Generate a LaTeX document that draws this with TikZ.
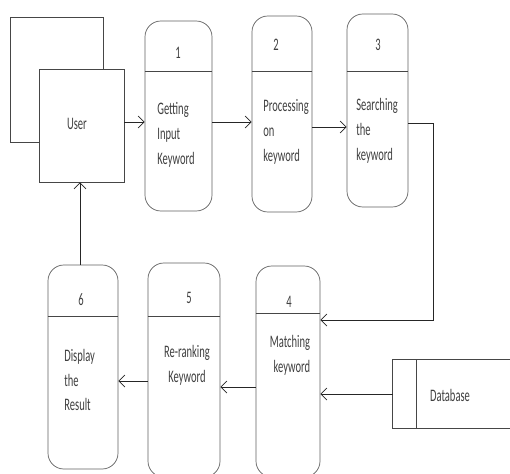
\documentclass[tikz,border=0pt]{standalone}
\usepackage{fontspec}
\setmainfont{Carlito}[FakeStretch=0.6]
\usetikzlibrary{arrows.meta, positioning, calc}
\definecolor{edge}{RGB}{70,70,70}

\begin{document}
\begin{tikzpicture}[x=0.02cm, y=-0.02cm,
  proc/.style={draw=edge!85, rounded corners=9pt, inner sep=0pt},
  ent/.style={draw=edge, inner sep=0pt},
  txt/.style={font=\fontsize{10}{11.2}\selectfont, text=black!75, align=left, inner sep=0pt},
  flow/.style={draw=black!85, -{Straight Barb[length=1.2mm, width=2.4mm]}}]
  \clip (0,0) rectangle (510,473);
  \fill[white] (0,0) rectangle (510,473);
  % user (external entity)
  \node[ent, minimum width=1.86cm, minimum height=2.5cm] (uback) at (56.5,79.5) {};
  \node[ent, fill=white, minimum width=1.7cm, minimum height=2.26cm] (u) at (81.5,125.5) {};
  \node[txt] (ulab) at (77,124) {User};
  % processes
  \foreach \n/\x/\y/\w/\h/\d in {p1/178.5/116/67/190/71, p2/282/114/60/196/71,
      p3/377.5/110.5/61/193/71, p4/288/371.5/64/211/313, p5/184/370/72/214/316,
      p6/83/367/70/204/316} {
    \node[proc, minimum width=\w*0.02cm, minimum height=\h*0.02cm] (\n) at (\x,\y) {};
    \draw[edge] (\n.west |- 0,\d) -- (\n.east |- 0,\d);
  }
  \node[txt] (n1) at (178,53) {1};
  \node[txt] (n2) at (276,45) {2};
  \node[txt] (n3) at (378,45) {3};
  \node[txt] (n4) at (289,302) {4};
  \node[txt] (n5) at (189,298) {5};
  \node[txt] (n6) at (81,300) {6};
  \node[txt, anchor=west] (t1) at (157,135) {Getting\\[3pt]Input\\[3pt]Keyword};
  \node[txt, anchor=west] (t2) at (263,132) {Processing\\[3pt]on\\[3pt]keyword};
  \node[txt, anchor=west] (t3) at (356,131) {Searching\\[3pt]the\\[3pt]keyword};
  \node[txt, align=right] (t4) at (290,355) {Matching\\[3pt]keyword};
  \node[txt, align=center] (t5) at (187,365) {Re-ranking\\[3pt]Keyword};
  \node[txt, anchor=west] (t6) at (64,380) {Display\\[3pt]the\\[3pt]Result};
  % data store
  \node[minimum width=2.54cm, minimum height=1.36cm, inner sep=0pt] (db) at (456.5,394) {};
  \draw[edge] (db.north east) -- (db.north west) -- (db.south west) -- (db.south east);
  \draw[edge] (db.north west) ++(24,0) -- ++(0,68);
  \node[txt] (dblab) at (450,395) {Database};
  % flows
  \coordinate (bend) at (433,320);
  \draw[flow] (u.east |- 0,122) -- (p1.west |- 0,122);
  \draw[flow] (p1.east |- 0,122) -- (p2.west |- 0,122);
  \draw[flow] (p2.east |- 0,127) -- (p3.west |- 0,127);
  \draw[flow] (p3.east |- 0,123) -| (bend) -- (p4.east |- bend);
  \draw[flow] (db.west) -- (p4.east |- db.west);
  \draw[flow] (p4.west |- 0,387) -- (p5.east |- 0,387);
  \draw[flow] (p5.west |- 0,381) -- (p6.east |- 0,381);
  \draw[flow] (p6.north -| 80,0) -- (u.south -| 80,0);
\end{tikzpicture}
\end{document}
